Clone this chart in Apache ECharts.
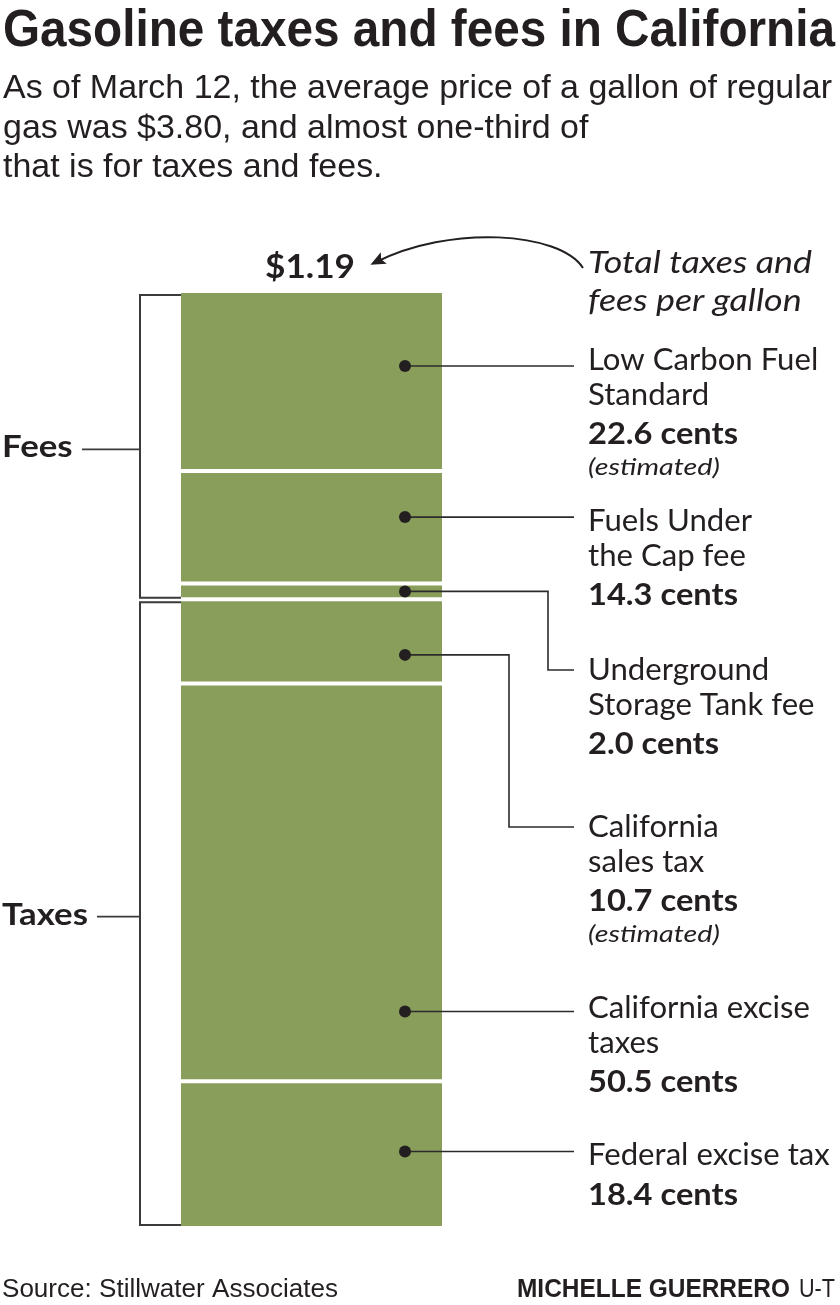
<!DOCTYPE html>
<html>
<head>
<meta charset="utf-8">
<script src="https://cdn.jsdelivr.net/npm/echarts@6/dist/echarts.min.js"></script>
<style>
html,body{margin:0;padding:0;background:#ffffff;}
#chart{width:840px;height:1305px;}
</style>
</head>
<body>
<div id="chart"></div>
<script>
// ---------------- DATA ----------------
const categories = [
  'Low Carbon Fuel Standard',
  'Fuels Under the Cap fee',
  'Underground Storage Tank fee',
  'California sales tax',
  'California excise taxes',
  'Federal excise tax'
];
const valuesCents = [22.6, 14.3, 2.0, 10.7, 50.5, 18.4];
const labelLines = [
  ['Low Carbon Fuel', 'Standard'],
  ['Fuels Under', 'the Cap fee'],
  ['Underground', 'Storage Tank fee'],
  ['California', 'sales tax'],
  ['California excise', 'taxes'],
  ['Federal excise tax']
];
const estimated = [true, false, false, true, false, false];
const groupNames = ['Fees', 'Taxes'];
const groupSizes = [3, 3];
const totalText = '$1.19';
const titleText = 'Gasoline taxes and fees in California';
const subtitleLines = [
  'As of March 12, the average price of a gallon of regular',
  'gas was $3.80, and almost one-third of',
  'that is for taxes and fees.'
];
const noteLines = ['Total taxes and', 'fees per gallon'];
const sourceText = 'Source: Stillwater Associates';
const creditBold = 'MICHELLE GUERRERO';
const creditReg = 'U-T';

// ---------------- LAYOUT ----------------
const BAR = '#8a9e5b';
const INK = '#231f20';
const LINE = '#2b2b2b';
const labelX = 588, leaderEndX = 574, dotX = 405, dotR = 6;
const labelY = [360, 521, 670, 827, 1008, 1155];   // middle of first text line
const dotFrac = [0.41, 0.41, 0.5, 0.66, 0.825, 0.486];
const elbowX = [null, null, 548, 509, null, null];
const bracketX = 140;
const groupTickStart = [82, 97];

const FN = "'Liberation Sans',Arial,'DejaVu Sans Condensed',sans-serif";
const FS = "Lato,'Open Sans',sans-serif";
const mctx = document.createElement('canvas').getContext('2d');
function measure(text, st) {
  mctx.font = `${st.fontStyle} ${st.fontWeight} ${st.fontSize}px ${st.fontFamily}`;
  return mctx.measureText(text).width;
}
function mkStyle(family, size, weight, fstyle, calibText, calibWidth) {
  const st = {fontFamily: family, fontSize: size, fontWeight: weight, fontStyle: fstyle};
  st.scale = calibText ? calibWidth / measure(calibText, st) : 1;
  return st;
}
const ST = {
  title: mkStyle(FN, 52, 'bold', 'normal', titleText, 832),
  sub: mkStyle(FN, 34, 'normal', 'normal', subtitleLines[0], 829),
  lbl: mkStyle(FS, 31, 'normal', 'normal', 'California excise', 222),
  val: mkStyle(FS, 31, 'bold', 'normal', '50.5 cents', 150),
  est: mkStyle(FS, 24, 'normal', 'italic', '(estimated)', 132),
  note: mkStyle(FS, 31, 'normal', 'italic', 'Total taxes and', 224),
  tot: mkStyle(FS, 32, 'bold', 'normal', totalText, 90),
  grp: mkStyle(FS, 31, 'bold', 'normal', 'Taxes', 86),
  src: mkStyle(FN, 25, 'normal', 'normal', sourceText, 336),
  credB: mkStyle(FN, 25, 'bold', 'normal', creditBold, 273),
  credR: mkStyle(FN, 25, 'normal', 'normal', creditReg, 36)
};
function T(x, y, text, st, align) {
  return {
    type: 'text', x: x, y: y, scaleX: st.scale, scaleY: 1, silent: true, z: 100,
    style: {
      text: text, fill: INK,
      fontFamily: st.fontFamily, fontSize: st.fontSize,
      fontWeight: st.fontWeight, fontStyle: st.fontStyle,
      align: align || 'left', verticalAlign: 'middle'
    }
  };
}
function Ln(points, w, color) {
  return {type: 'polyline', silent: true, z: 100, shape: {points: points},
          style: {stroke: color || LINE, lineWidth: w || 1.6, fill: null}};
}

// ---------------- CHART ----------------
const chart = echarts.init(document.getElementById('chart'), null, {renderer: 'canvas'});
const total = valuesCents.reduce((a, b) => a + b, 0);
chart.setOption({
  animation: false,
  backgroundColor: '#ffffff',
  grid: {left: 181, right: 398, top: 293, bottom: 79},
  xAxis: {type: 'category', data: ['gallon'], show: false},
  yAxis: {type: 'value', inverse: true, min: 0, max: total, show: false},
  series: categories.map((c, i) => ({
    type: 'bar', name: c, stack: 'total', data: [valuesCents[i]],
    barWidth: '100%', silent: true,
    itemStyle: {color: BAR}
  }))
});

function pt(v) { return chart.convertToPixel({xAxisIndex: 0, yAxisIndex: 0}, [0, v]); }
const cum = [0];
valuesCents.forEach(v => cum.push(cum[cum.length - 1] + v));
const segTop = cum.slice(0, -1).map(v => pt(v)[1]);
const segBot = cum.slice(1).map(v => pt(v)[1]);
const gridRect = chart.getModel().getComponent('grid', 0).coordinateSystem.getRect();
const barLeft = gridRect.x, barRight = gridRect.x + gridRect.width;

const g = [];
// white separators between stacked segments
for (let i = 0; i < segBot.length - 1; i++) {
  g.push({type: 'line', silent: true, z: 50,
    shape: {x1: barLeft - 1, y1: segBot[i], x2: barRight + 1, y2: segBot[i]},
    style: {stroke: '#ffffff', lineWidth: 4}});
}
// title / subtitle
g.push(T(3, 32, titleText, ST.title));
subtitleLines.forEach((s, i) => g.push(T(3, 89 + i * 39.5, s, ST.sub)));

// total + note + arrow
g.push(T(265, 268, totalText, ST.tot));
noteLines.forEach((s, i) => g.push(T(588, 263 + i * 37.5, s, ST.note)));
const a0 = [583, 268], c1 = [560, 232], c2 = [450, 224], a1 = [374, 263];
g.push({type: 'bezierCurve', silent: true, z: 100,
  shape: {x1: a0[0], y1: a0[1], cpx1: c1[0], cpy1: c1[1], cpx2: c2[0], cpy2: c2[1], x2: a1[0], y2: a1[1]},
  style: {stroke: INK, lineWidth: 2, fill: null}});
(function () {
  const dx = a1[0] - c2[0], dy = a1[1] - c2[1], len = Math.hypot(dx, dy);
  const ux = dx / len, uy = dy / len, px = -uy, pyv = ux;
  const tip = [a1[0] + 4 * ux, a1[1] + 4 * uy];
  const base = [tip[0] - 15 * ux, tip[1] - 15 * uy];
  g.push({type: 'polygon', silent: true, z: 100,
    shape: {points: [tip, [base[0] + 6.5 * px, base[1] + 6.5 * pyv], [base[0] + 3 * ux, base[1] + 3 * uy], [base[0] - 6.5 * px, base[1] - 6.5 * pyv]]},
    style: {fill: INK}});
})();

// dots, leaders, labels
valuesCents.forEach((v, i) => {
  const dy = segTop[i] + dotFrac[i] * (segBot[i] - segTop[i]);
  g.push({type: 'circle', silent: true, z: 110, shape: {cx: dotX, cy: dy, r: dotR}, style: {fill: INK}});
  if (elbowX[i] == null) {
    g.push(Ln([[dotX, dy], [leaderEndX, dy]]));
  } else {
    const ly = labelY[i];
    g.push(Ln([[dotX, dy], [elbowX[i], dy], [elbowX[i], ly], [leaderEndX, ly]]));
  }
  let y = labelY[i];
  labelLines[i].forEach((s, k) => {
    if (k > 0) y += 34.5;
    g.push(T(labelX, y, s, ST.lbl));
  });
  y += 39.5;
  g.push(T(labelX, y, v.toFixed(1) + ' cents', ST.val));
  if (estimated[i]) {
    y += 33.5;
    g.push(T(labelX, y, '(estimated)', ST.est));
  }
});

// group brackets
let start = 0;
groupNames.forEach((name, gi) => {
  const end = start + groupSizes[gi];
  const top = gi === 0 ? segTop[start] + 2 : segTop[start] + 3;
  const bot = gi === groupNames.length - 1 ? segBot[end - 1] - 1 : segBot[end - 1] - 1.5;
  const mid = (top + bot) / 2 + 3;
  g.push(Ln([[barLeft, top], [bracketX, top], [bracketX, bot], [barLeft, bot]], 2, '#3a3a3a'));
  g.push(Ln([[groupTickStart[gi], mid], [bracketX, mid]], 1.8, '#3a3a3a'));
  g.push(T(2, mid - 2, name, ST.grp));
  start = end;
});

// footer
g.push(T(2, 1290, sourceText, ST.src));
g.push(T(790, 1290, creditBold, ST.credB, 'right'));
g.push(T(835, 1290, creditReg, ST.credR, 'right'));

chart.setOption({graphic: {elements: g}});
</script>
</body>
</html>
